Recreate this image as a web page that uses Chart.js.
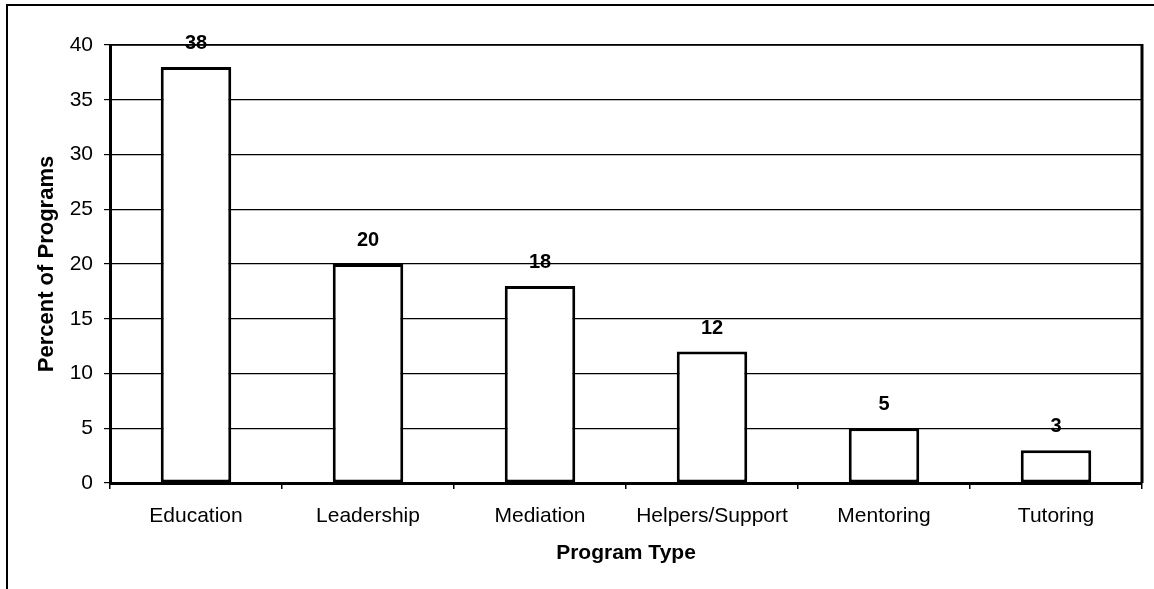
<!DOCTYPE html>
<html>
<head>
<meta charset="utf-8">
<script src="https://cdn.jsdelivr.net/npm/chart.js@4/dist/chart.umd.min.js"></script>
<style>
  html, body { margin: 0; padding: 0; background: #fff; }
  #wrap { position: relative; width: 1154px; height: 589px; }
  canvas { display: block; }
</style>
</head>
<body>
<div id="wrap"><canvas id="c" width="1154" height="589"></canvas></div>
<script>
const categories = ["Education", "Leadership", "Mediation", "Helpers/Support", "Mentoring", "Tutoring"];
const percentValues = [38, 20, 18, 12, 5, 3];
const yTicks = [0, 5, 10, 15, 20, 25, 30, 35, 40];
const xTitle = "Program Type";
const yTitle = "Percent of Programs";

const FONT = '"Liberation Sans", Arial, sans-serif';

const framePlugin = {
  id: 'frame',
  beforeDraw(chart) {
    const ctx = chart.ctx;
    ctx.save();
    ctx.fillStyle = '#fff';
    ctx.fillRect(0, 0, chart.width, chart.height);
    ctx.strokeStyle = '#000';
    ctx.lineWidth = 2;
    ctx.beginPath();
    ctx.moveTo(7, chart.height);
    ctx.lineTo(7, 5);
    ctx.lineTo(chart.width, 5);
    ctx.stroke();
    ctx.restore();
  },
  afterDraw(chart) {
    const ctx = chart.ctx;
    const a = chart.chartArea;
    ctx.save();
    ctx.strokeStyle = '#000';
    ctx.lineWidth = 1.5;
    ctx.beginPath();
    ctx.moveTo(a.left, a.top);
    ctx.lineTo(a.right, a.top);
    ctx.stroke();
    ctx.lineWidth = 3;
    ctx.beginPath();
    ctx.moveTo(a.right, a.top - 1);
    ctx.lineTo(a.right, a.bottom);
    ctx.stroke();
    const meta = chart.getDatasetMeta(0);
    ctx.fillStyle = '#000';
    ctx.font = 'bold 20px ' + FONT;
    ctx.textAlign = 'center';
    ctx.textBaseline = 'alphabetic';
    meta.data.forEach((bar, i) => {
      ctx.fillText(String(percentValues[i]), bar.x, bar.y - 18);
    });
    ctx.restore();
  }
};

new Chart(document.getElementById('c'), {
  type: 'bar',
  data: {
    labels: categories,
    datasets: [{
      data: percentValues,
      backgroundColor: '#ffffff',
      borderColor: '#000000',
      borderWidth: 3,
      borderSkipped: false,
      barPercentage: 0.41,
      categoryPercentage: 1.0
    }]
  },
  options: {
    responsive: false,
    devicePixelRatio: 1,
    animation: false,
    layout: { padding: { top: 45, right: 12, bottom: 0, left: 0 } },
    plugins: {
      legend: { display: false },
      tooltip: { enabled: false }
    },
    scales: {
      x: {
        offset: true,
        grid: {
          display: true,
          offset: true,
          drawOnChartArea: false,
          drawTicks: true,
          tickLength: 6,
          color: '#000',
          lineWidth: 1.5
        },
        border: { display: true, color: '#000', width: 3 },
        ticks: {
          color: '#000',
          font: { family: FONT, size: 21 },
          padding: 15,
          maxRotation: 0,
          autoSkip: false
        },
        title: {
          display: true,
          text: xTitle,
          color: '#000',
          font: { family: FONT, size: 21, weight: 'bold', lineHeight: 1 },
          padding: { top: 0, bottom: 25 }
        },
        afterFit(scale) { scale.height = 106; }
      },
      y: {
        min: 0,
        max: 40,
        afterBuildTicks(scale) { scale.ticks = yTicks.map(v => ({ value: v })); },
        grid: {
          color: '#000',
          lineWidth: 1.2,
          drawTicks: true,
          tickLength: 6
        },
        border: { display: true, color: '#000', width: 3 },
        ticks: {
          color: '#000',
          font: { family: FONT, size: 21 },
          padding: 11
        },
        title: {
          display: true,
          text: yTitle,
          color: '#000',
          font: { family: FONT, size: 22, weight: 'bold', lineHeight: 1 },
          padding: { top: 36, bottom: 0 }
        },
        afterFit(scale) { scale.width = 110; }
      }
    }
  },
  plugins: [framePlugin]
});
</script>
</body>
</html>
